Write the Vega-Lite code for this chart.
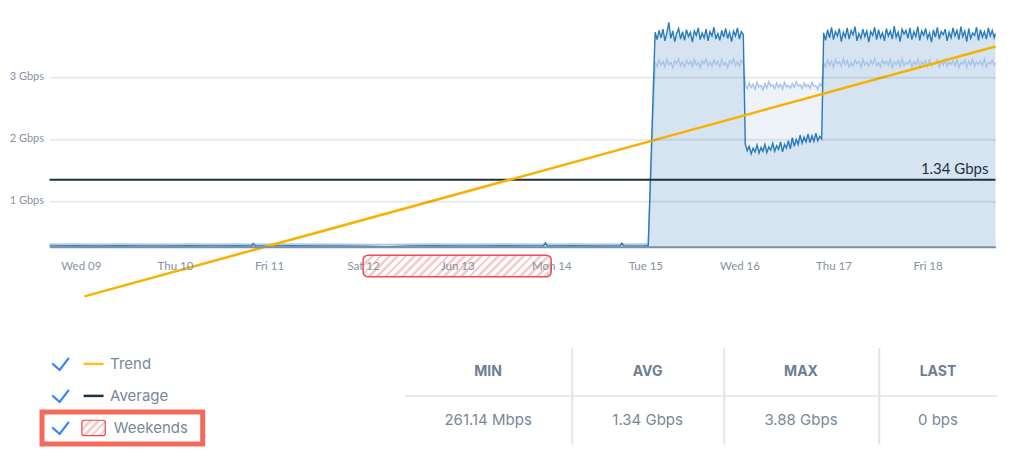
{
"$schema": "https://vega.github.io/schema/vega-lite/v6.json",
"padding": {"left": 9, "top": 19.3, "right": 5, "bottom": 5},
"background": "white",
"config": {"view": {"stroke": null}},
"bounds": "flush",
"spacing": 100.6,
"datasets": {
"series": [
{"t":"2021-06-08T16:00","a":0.274,"b":0.301},
{"t":"2021-06-08T22:00","a":0.277,"b":0.304},
{"t":"2021-06-09T04:00","a":0.273,"b":0.300},
{"t":"2021-06-09T10:00","a":0.276,"b":0.303},
{"t":"2021-06-09T16:00","a":0.275,"b":0.302},
{"t":"2021-06-09T22:00","a":0.272,"b":0.299},
{"t":"2021-06-10T04:00","a":0.276,"b":0.303},
{"t":"2021-06-10T10:00","a":0.274,"b":0.301},
{"t":"2021-06-10T16:00","a":0.277,"b":0.304},
{"t":"2021-06-10T19:30","a":0.275,"b":0.302},
{"t":"2021-06-10T20:00","a":0.305,"b":0.318},
{"t":"2021-06-10T20:30","a":0.275,"b":0.302},
{"t":"2021-06-11T00:00","a":0.274,"b":0.301},
{"t":"2021-06-11T06:00","a":0.276,"b":0.303},
{"t":"2021-06-11T12:00","a":0.273,"b":0.300},
{"t":"2021-06-11T18:00","a":0.275,"b":0.302},
{"t":"2021-06-12T00:00","a":0.271,"b":0.298},
{"t":"2021-06-12T06:00","a":0.261,"b":0.295},
{"t":"2021-06-12T12:00","a":0.274,"b":0.301},
{"t":"2021-06-12T18:00","a":0.276,"b":0.303},
{"t":"2021-06-13T00:00","a":0.273,"b":0.300},
{"t":"2021-06-13T06:00","a":0.275,"b":0.302},
{"t":"2021-06-13T12:00","a":0.277,"b":0.304},
{"t":"2021-06-13T18:00","a":0.274,"b":0.301},
{"t":"2021-06-13T22:00","a":0.275,"b":0.302},
{"t":"2021-06-13T22:30","a":0.32,"b":0.318},
{"t":"2021-06-13T23:00","a":0.275,"b":0.302},
{"t":"2021-06-14T06:00","a":0.276,"b":0.303},
{"t":"2021-06-14T12:00","a":0.273,"b":0.300},
{"t":"2021-06-14T17:30","a":0.275,"b":0.302},
{"t":"2021-06-14T18:00","a":0.318,"b":0.316},
{"t":"2021-06-14T18:30","a":0.274,"b":0.301},
{"t":"2021-06-15T00:00","a":0.276,"b":0.303},
{"t":"2021-06-15T00:45","a":0.278,"b":0.304},
{"t":"2021-06-15T02:30","a":3.72,"b":3.24},
{"t":"2021-06-15T03:00","a":3.60,"b":3.17},
{"t":"2021-06-15T03:30","a":3.75,"b":3.27},
{"t":"2021-06-15T04:00","a":3.63,"b":3.19},
{"t":"2021-06-15T04:30","a":3.77,"b":3.25},
{"t":"2021-06-15T05:00","a":3.58,"b":3.16},
{"t":"2021-06-15T05:30","a":3.71,"b":3.28},
{"t":"2021-06-15T06:00","a":3.88,"b":3.20},
{"t":"2021-06-15T06:30","a":3.62,"b":3.23},
{"t":"2021-06-15T07:00","a":3.74,"b":3.15},
{"t":"2021-06-15T07:30","a":3.57,"b":3.26},
{"t":"2021-06-15T08:00","a":3.70,"b":3.21},
{"t":"2021-06-15T08:30","a":3.78,"b":3.29},
{"t":"2021-06-15T09:00","a":3.61,"b":3.18},
{"t":"2021-06-15T09:30","a":3.73,"b":3.24},
{"t":"2021-06-15T10:00","a":3.59,"b":3.16},
{"t":"2021-06-15T10:30","a":3.76,"b":3.27},
{"t":"2021-06-15T11:00","a":3.65,"b":3.20},
{"t":"2021-06-15T11:30","a":3.72,"b":3.25},
{"t":"2021-06-15T12:00","a":3.56,"b":3.17},
{"t":"2021-06-15T12:30","a":3.74,"b":3.28},
{"t":"2021-06-15T13:00","a":3.67,"b":3.19},
{"t":"2021-06-15T13:30","a":3.79,"b":3.23},
{"t":"2021-06-15T14:00","a":3.60,"b":3.15},
{"t":"2021-06-15T14:30","a":3.71,"b":3.26},
{"t":"2021-06-15T15:00","a":3.63,"b":3.21},
{"t":"2021-06-15T15:30","a":3.77,"b":3.29},
{"t":"2021-06-15T16:00","a":3.58,"b":3.18},
{"t":"2021-06-15T16:30","a":3.73,"b":3.24},
{"t":"2021-06-15T17:00","a":3.66,"b":3.17},
{"t":"2021-06-15T17:30","a":3.80,"b":3.27},
{"t":"2021-06-15T18:00","a":3.61,"b":3.20},
{"t":"2021-06-15T18:30","a":3.70,"b":3.25},
{"t":"2021-06-15T19:00","a":3.59,"b":3.16},
{"t":"2021-06-15T19:30","a":3.75,"b":3.28},
{"t":"2021-06-15T20:00","a":3.64,"b":3.19},
{"t":"2021-06-15T20:30","a":3.78,"b":3.23},
{"t":"2021-06-15T21:00","a":3.62,"b":3.15},
{"t":"2021-06-15T21:30","a":3.72,"b":3.26},
{"t":"2021-06-15T22:00","a":3.57,"b":3.21},
{"t":"2021-06-15T22:30","a":3.74,"b":3.29},
{"t":"2021-06-15T23:00","a":3.66,"b":3.18},
{"t":"2021-06-15T23:30","a":3.79,"b":3.24},
{"t":"2021-06-16T00:00","a":3.61,"b":3.17},
{"t":"2021-06-16T00:30","a":3.73,"b":3.27},
{"t":"2021-06-16T01:00","a":3.68,"b":3.22},
{"t":"2021-06-16T01:30","a":1.92,"b":2.87},
{"t":"2021-06-16T02:00","a":1.81,"b":2.81},
{"t":"2021-06-16T02:30","a":1.88,"b":2.90},
{"t":"2021-06-16T03:00","a":1.76,"b":2.83},
{"t":"2021-06-16T03:30","a":1.85,"b":2.88},
{"t":"2021-06-16T04:00","a":1.79,"b":2.80},
{"t":"2021-06-16T04:30","a":1.90,"b":2.91},
{"t":"2021-06-16T05:00","a":1.77,"b":2.84},
{"t":"2021-06-16T05:30","a":1.86,"b":2.86},
{"t":"2021-06-16T06:00","a":1.80,"b":2.79},
{"t":"2021-06-16T06:30","a":1.91,"b":2.89},
{"t":"2021-06-16T07:00","a":1.78,"b":2.82},
{"t":"2021-06-16T07:30","a":1.87,"b":2.92},
{"t":"2021-06-16T08:00","a":1.82,"b":2.85},
{"t":"2021-06-16T08:30","a":1.93,"b":2.87},
{"t":"2021-06-16T09:00","a":1.80,"b":2.81},
{"t":"2021-06-16T09:30","a":1.89,"b":2.90},
{"t":"2021-06-16T10:00","a":1.83,"b":2.83},
{"t":"2021-06-16T10:30","a":1.95,"b":2.88},
{"t":"2021-06-16T11:00","a":1.79,"b":2.80},
{"t":"2021-06-16T11:30","a":1.91,"b":2.91},
{"t":"2021-06-16T12:00","a":1.85,"b":2.84},
{"t":"2021-06-16T12:30","a":1.97,"b":2.86},
{"t":"2021-06-16T13:00","a":1.84,"b":2.82},
{"t":"2021-06-16T13:30","a":2.02,"b":2.89},
{"t":"2021-06-16T14:00","a":1.88,"b":2.83},
{"t":"2021-06-16T14:30","a":1.99,"b":2.92},
{"t":"2021-06-16T15:00","a":1.91,"b":2.85},
{"t":"2021-06-16T15:30","a":2.06,"b":2.87},
{"t":"2021-06-16T16:00","a":1.93,"b":2.81},
{"t":"2021-06-16T16:30","a":2.03,"b":2.90},
{"t":"2021-06-16T17:00","a":1.95,"b":2.84},
{"t":"2021-06-16T17:30","a":2.08,"b":2.88},
{"t":"2021-06-16T18:00","a":1.94,"b":2.82},
{"t":"2021-06-16T18:30","a":2.05,"b":2.91},
{"t":"2021-06-16T19:00","a":1.96,"b":2.85},
{"t":"2021-06-16T19:30","a":2.09,"b":2.86},
{"t":"2021-06-16T20:00","a":1.97,"b":2.80},
{"t":"2021-06-16T20:30","a":2.04,"b":2.89},
{"t":"2021-06-16T21:00","a":2.00,"b":2.85},
{"t":"2021-06-16T21:30","a":3.71,"b":3.23},
{"t":"2021-06-16T22:00","a":3.59,"b":3.16},
{"t":"2021-06-16T22:30","a":3.76,"b":3.27},
{"t":"2021-06-16T23:00","a":3.63,"b":3.19},
{"t":"2021-06-16T23:30","a":3.80,"b":3.25},
{"t":"2021-06-17T00:00","a":3.60,"b":3.15},
{"t":"2021-06-17T00:30","a":3.73,"b":3.28},
{"t":"2021-06-17T01:00","a":3.66,"b":3.21},
{"t":"2021-06-17T01:30","a":3.78,"b":3.24},
{"t":"2021-06-17T02:00","a":3.57,"b":3.17},
{"t":"2021-06-17T02:30","a":3.72,"b":3.29},
{"t":"2021-06-17T03:00","a":3.64,"b":3.20},
{"t":"2021-06-17T03:30","a":3.79,"b":3.26},
{"t":"2021-06-17T04:00","a":3.61,"b":3.16},
{"t":"2021-06-17T04:30","a":3.75,"b":3.23},
{"t":"2021-06-17T05:00","a":3.68,"b":3.18},
{"t":"2021-06-17T05:30","a":3.81,"b":3.27},
{"t":"2021-06-17T06:00","a":3.58,"b":3.21},
{"t":"2021-06-17T06:30","a":3.70,"b":3.25},
{"t":"2021-06-17T07:00","a":3.62,"b":3.15},
{"t":"2021-06-17T07:30","a":3.77,"b":3.28},
{"t":"2021-06-17T08:00","a":3.65,"b":3.19},
{"t":"2021-06-17T08:30","a":3.74,"b":3.24},
{"t":"2021-06-17T09:00","a":3.56,"b":3.17},
{"t":"2021-06-17T09:30","a":3.73,"b":3.26},
{"t":"2021-06-17T10:00","a":3.67,"b":3.20},
{"t":"2021-06-17T10:30","a":3.80,"b":3.29},
{"t":"2021-06-17T11:00","a":3.60,"b":3.18},
{"t":"2021-06-17T11:30","a":3.76,"b":3.23},
{"t":"2021-06-17T12:00","a":3.63,"b":3.16},
{"t":"2021-06-17T12:30","a":3.71,"b":3.27},
{"t":"2021-06-17T13:00","a":3.58,"b":3.21},
{"t":"2021-06-17T13:30","a":3.78,"b":3.25},
{"t":"2021-06-17T14:00","a":3.66,"b":3.19},
{"t":"2021-06-17T14:30","a":3.74,"b":3.28},
{"t":"2021-06-17T15:00","a":3.61,"b":3.15},
{"t":"2021-06-17T15:30","a":3.82,"b":3.24},
{"t":"2021-06-17T16:00","a":3.64,"b":3.20},
{"t":"2021-06-17T16:30","a":3.72,"b":3.26},
{"t":"2021-06-17T17:00","a":3.57,"b":3.17},
{"t":"2021-06-17T17:30","a":3.77,"b":3.29},
{"t":"2021-06-17T18:00","a":3.69,"b":3.18},
{"t":"2021-06-17T18:30","a":3.75,"b":3.23},
{"t":"2021-06-17T19:00","a":3.62,"b":3.21},
{"t":"2021-06-17T19:30","a":3.79,"b":3.27},
{"t":"2021-06-17T20:00","a":3.60,"b":3.16},
{"t":"2021-06-17T20:30","a":3.73,"b":3.25},
{"t":"2021-06-17T21:00","a":3.65,"b":3.19},
{"t":"2021-06-17T21:30","a":3.81,"b":3.28},
{"t":"2021-06-17T22:00","a":3.59,"b":3.17},
{"t":"2021-06-17T22:30","a":3.74,"b":3.24},
{"t":"2021-06-17T23:00","a":3.67,"b":3.20},
{"t":"2021-06-17T23:30","a":3.78,"b":3.26},
{"t":"2021-06-18T00:00","a":3.62,"b":3.15},
{"t":"2021-06-18T00:30","a":3.71,"b":3.29},
{"t":"2021-06-18T01:00","a":3.56,"b":3.18},
{"t":"2021-06-18T01:30","a":3.76,"b":3.23},
{"t":"2021-06-18T02:00","a":3.64,"b":3.21},
{"t":"2021-06-18T02:30","a":3.80,"b":3.27},
{"t":"2021-06-18T03:00","a":3.61,"b":3.16},
{"t":"2021-06-18T03:30","a":3.73,"b":3.25},
{"t":"2021-06-18T04:00","a":3.68,"b":3.19},
{"t":"2021-06-18T04:30","a":3.77,"b":3.28},
{"t":"2021-06-18T05:00","a":3.58,"b":3.17},
{"t":"2021-06-18T05:30","a":3.72,"b":3.24},
{"t":"2021-06-18T06:00","a":3.63,"b":3.20},
{"t":"2021-06-18T06:30","a":3.79,"b":3.26},
{"t":"2021-06-18T07:00","a":3.66,"b":3.18},
{"t":"2021-06-18T07:30","a":3.75,"b":3.29},
{"t":"2021-06-18T08:00","a":3.60,"b":3.15},
{"t":"2021-06-18T08:30","a":3.81,"b":3.23},
{"t":"2021-06-18T09:00","a":3.65,"b":3.21},
{"t":"2021-06-18T09:30","a":3.74,"b":3.27},
{"t":"2021-06-18T10:00","a":3.57,"b":3.16},
{"t":"2021-06-18T10:30","a":3.78,"b":3.25},
{"t":"2021-06-18T11:00","a":3.62,"b":3.19},
{"t":"2021-06-18T11:30","a":3.71,"b":3.28},
{"t":"2021-06-18T12:00","a":3.67,"b":3.17},
{"t":"2021-06-18T12:30","a":3.80,"b":3.24},
{"t":"2021-06-18T13:00","a":3.59,"b":3.20},
{"t":"2021-06-18T13:30","a":3.76,"b":3.26},
{"t":"2021-06-18T14:00","a":3.64,"b":3.18},
{"t":"2021-06-18T14:30","a":3.73,"b":3.29},
{"t":"2021-06-18T15:00","a":3.61,"b":3.16},
{"t":"2021-06-18T15:30","a":3.79,"b":3.23},
{"t":"2021-06-18T16:00","a":3.66,"b":3.21},
{"t":"2021-06-18T16:30","a":3.75,"b":3.27},
{"t":"2021-06-18T17:00","a":3.63,"b":3.19},
{"t":"2021-06-18T17:20","a":3.70,"b":3.22}
],
"legend": [{"item":"Trend"},{"item":"Average"},{"item":"Weekends"}],
"stats": [{"col":"MIN","val":"261.14 Mbps"},{"col":"AVG","val":"1.34 Gbps"},{"col":"MAX","val":"3.88 Gbps"},{"col":"LAST","val":"0 bps"}]
},
"vconcat": [
{
"width": 953.5,
"height": 224.4,
"layer": [
{"data": {"name": "series"},
 "mark": {"type": "area", "color": "#edf3f9", "opacity": 1},
 "encoding": {
  "x": {"field": "t", "type": "temporal",
   "scale": {"domain": [{"year":2021,"month":6,"date":8,"hours":16},{"year":2021,"month":6,"date":18,"hours":17,"minutes":20}], "range": [7.5, 953.5]},
   "axis": {"title": null, "tickCount": {"interval": "day", "step": 1}, "ticks": false, "tickSize": 0, "grid": false, "domain": true, "domainColor": "#7d91a6", "domainWidth": 2, "labelFont": "Lato", "labelFontSize": 11.5, "labelColor": "#8592a3", "labelPadding": 14, "labelFlush": false, "labelOverlap": false, "zindex": 1}},
  "y": {"field": "b", "type": "quantitative",
   "scale": {"domain": [0.26114, 3.88], "zero": false, "nice": false},
   "axis": {"title": null, "values": [1, 2, 3], "labelExpr": "datum.value + ' Gbps'", "ticks": false, "tickSize": 0, "domain": false, "grid": true, "gridColor": "#1e3c5a", "gridOpacity": 0.1, "gridWidth": 2, "labelFont": "Lato", "labelFontSize": 11, "labelColor": "#8793a2", "labelPadding": 6, "offset": -7.5, "zindex": 1}},
  "y2": {"datum": 0.26114}
 }},
{"data": {"name": "series"},
 "mark": {"type": "area", "color": "#d6e4f1", "opacity": 1},
 "encoding": {"x": {"field": "t", "type": "temporal"}, "y": {"field": "a", "type": "quantitative"}, "y2": {"datum": 0.26114}}},
{"data": {"name": "series"},
 "mark": {"type": "line", "color": "#a8c5e7", "strokeWidth": 1.5},
 "encoding": {"x": {"field": "t", "type": "temporal"}, "y": {"field": "b", "type": "quantitative"}}},
{"data": {"name": "series"},
 "mark": {"type": "line", "color": "#2b7bba", "strokeWidth": 1.4},
 "encoding": {"x": {"field": "t", "type": "temporal"}, "y": {"field": "a", "type": "quantitative"}}},
{"data": {"values": [{"start": "2021-06-12T00:00", "end": "2021-06-14T00:00"}]},
 "mark": {"type": "rect", "stroke": "#ee4b55", "strokeWidth": 1.5, "cornerRadius": 5,
  "fill": {"gradient": "linear", "x1": 0, "y1": 0, "x2": 1.1007, "y2": 0.1269, "stops": [
{"offset":0,"color":"#f7cdcd"},{"offset":0.018,"color":"#f7cdcd"},{"offset":0.018,"color":"#ffffff"},{"offset":0.04,"color":"#ffffff"},
{"offset":0.04,"color":"#f7cdcd"},{"offset":0.058,"color":"#f7cdcd"},{"offset":0.058,"color":"#ffffff"},{"offset":0.08,"color":"#ffffff"},
{"offset":0.08,"color":"#f7cdcd"},{"offset":0.098,"color":"#f7cdcd"},{"offset":0.098,"color":"#ffffff"},{"offset":0.12,"color":"#ffffff"},
{"offset":0.12,"color":"#f7cdcd"},{"offset":0.138,"color":"#f7cdcd"},{"offset":0.138,"color":"#ffffff"},{"offset":0.16,"color":"#ffffff"},
{"offset":0.16,"color":"#f7cdcd"},{"offset":0.178,"color":"#f7cdcd"},{"offset":0.178,"color":"#ffffff"},{"offset":0.2,"color":"#ffffff"},
{"offset":0.2,"color":"#f7cdcd"},{"offset":0.218,"color":"#f7cdcd"},{"offset":0.218,"color":"#ffffff"},{"offset":0.24,"color":"#ffffff"},
{"offset":0.24,"color":"#f7cdcd"},{"offset":0.258,"color":"#f7cdcd"},{"offset":0.258,"color":"#ffffff"},{"offset":0.28,"color":"#ffffff"},
{"offset":0.28,"color":"#f7cdcd"},{"offset":0.298,"color":"#f7cdcd"},{"offset":0.298,"color":"#ffffff"},{"offset":0.32,"color":"#ffffff"},
{"offset":0.32,"color":"#f7cdcd"},{"offset":0.338,"color":"#f7cdcd"},{"offset":0.338,"color":"#ffffff"},{"offset":0.36,"color":"#ffffff"},
{"offset":0.36,"color":"#f7cdcd"},{"offset":0.378,"color":"#f7cdcd"},{"offset":0.378,"color":"#ffffff"},{"offset":0.4,"color":"#ffffff"},
{"offset":0.4,"color":"#f7cdcd"},{"offset":0.418,"color":"#f7cdcd"},{"offset":0.418,"color":"#ffffff"},{"offset":0.44,"color":"#ffffff"},
{"offset":0.44,"color":"#f7cdcd"},{"offset":0.458,"color":"#f7cdcd"},{"offset":0.458,"color":"#ffffff"},{"offset":0.48,"color":"#ffffff"},
{"offset":0.48,"color":"#f7cdcd"},{"offset":0.498,"color":"#f7cdcd"},{"offset":0.498,"color":"#ffffff"},{"offset":0.52,"color":"#ffffff"},
{"offset":0.52,"color":"#f7cdcd"},{"offset":0.538,"color":"#f7cdcd"},{"offset":0.538,"color":"#ffffff"},{"offset":0.56,"color":"#ffffff"},
{"offset":0.56,"color":"#f7cdcd"},{"offset":0.578,"color":"#f7cdcd"},{"offset":0.578,"color":"#ffffff"},{"offset":0.6,"color":"#ffffff"},
{"offset":0.6,"color":"#f7cdcd"},{"offset":0.618,"color":"#f7cdcd"},{"offset":0.618,"color":"#ffffff"},{"offset":0.64,"color":"#ffffff"},
{"offset":0.64,"color":"#f7cdcd"},{"offset":0.658,"color":"#f7cdcd"},{"offset":0.658,"color":"#ffffff"},{"offset":0.68,"color":"#ffffff"},
{"offset":0.68,"color":"#f7cdcd"},{"offset":0.698,"color":"#f7cdcd"},{"offset":0.698,"color":"#ffffff"},{"offset":0.72,"color":"#ffffff"},
{"offset":0.72,"color":"#f7cdcd"},{"offset":0.738,"color":"#f7cdcd"},{"offset":0.738,"color":"#ffffff"},{"offset":0.76,"color":"#ffffff"},
{"offset":0.76,"color":"#f7cdcd"},{"offset":0.778,"color":"#f7cdcd"},{"offset":0.778,"color":"#ffffff"},{"offset":0.8,"color":"#ffffff"},
{"offset":0.8,"color":"#f7cdcd"},{"offset":0.818,"color":"#f7cdcd"},{"offset":0.818,"color":"#ffffff"},{"offset":0.84,"color":"#ffffff"},
{"offset":0.84,"color":"#f7cdcd"},{"offset":0.858,"color":"#f7cdcd"},{"offset":0.858,"color":"#ffffff"},{"offset":0.88,"color":"#ffffff"},
{"offset":0.88,"color":"#f7cdcd"},{"offset":0.898,"color":"#f7cdcd"},{"offset":0.898,"color":"#ffffff"},{"offset":0.92,"color":"#ffffff"},
{"offset":0.92,"color":"#f7cdcd"},{"offset":0.938,"color":"#f7cdcd"},{"offset":0.938,"color":"#ffffff"},{"offset":0.96,"color":"#ffffff"},
{"offset":0.96,"color":"#f7cdcd"},{"offset":0.978,"color":"#f7cdcd"},{"offset":0.978,"color":"#ffffff"},{"offset":1,"color":"#ffffff"}
  ]}},
 "encoding": {"x": {"field": "start", "type": "temporal"}, "x2": {"field": "end"}, "y": {"datum": 0.125, "type": "quantitative"}, "y2": {"datum": -0.225}}},
{"data": {"values": [{"t": "2021-06-08T16:00", "t2": "2021-06-18T17:20", "v": 1.34, "label": "1.34 Gbps"}]},
 "mark": {"type": "rule", "color": "#1f2f3e", "strokeWidth": 2},
 "encoding": {"x": {"field": "t", "type": "temporal"}, "x2": {"field": "t2"}, "y": {"field": "v", "type": "quantitative"}}},
{"data": {"values": [{"t": "2021-06-08T16:00", "t2": "2021-06-18T17:20", "v": 1.34, "label": "1.34 Gbps"}]},
 "mark": {"type": "text", "align": "right", "baseline": "alphabetic", "dx": -7, "dy": -6, "font": "Lato", "fontSize": 15, "color": "#1f2f3e"},
 "encoding": {"x": {"field": "t2", "type": "temporal"}, "y": {"field": "v", "type": "quantitative"}, "text": {"field": "label"}}},
{"data": {"values": [{"t": "2021-06-09T00:55", "v": -0.54}, {"t": "2021-06-18T17:20", "v": 3.49}]},
 "mark": {"type": "line", "color": "#f8b100", "strokeWidth": 2.5},
 "encoding": {"x": {"field": "t", "type": "temporal"}, "y": {"field": "v", "type": "quantitative"}}}
]
},
{
"hconcat": [
{
"width": 160.7,
"height": 96,
"data": {"name": "legend"},
"layer": [
{"transform": [{"filter": "datum.item === 'Weekends'"}],
 "mark": {"type": "rect", "fill": "transparent", "stroke": "#f36a5a", "strokeWidth": 5},
 "encoding": {"y": {"field": "item", "type": "nominal", "scale": {"type": "band", "domain": ["Trend", "Average", "Weekends"], "paddingInner": 0, "paddingOuter": 0}, "axis": null}}},
{"mark": {"type": "point", "shape": "M-1,-0.05L-0.1,0.72L1,-0.72", "size": 279, "filled": false, "color": "#3b82f6", "strokeWidth": 2.2, "opacity": 1},
 "encoding": {"x": {"datum": "check", "type": "nominal", "scale": {"type": "point", "domain": ["check", "gap", "symbol", "label"], "range": [18.5, 68.1], "padding": 0}, "axis": null}, "y": {"field": "item", "type": "nominal"}}},
{"transform": [{"filter": "datum.item === 'Trend'"}],
 "mark": {"type": "point", "shape": "M-1,0L1,0", "size": 400, "filled": false, "color": "#fbbd2a", "strokeWidth": 2.5, "opacity": 1},
 "encoding": {"x": {"datum": "symbol", "type": "nominal"}, "y": {"field": "item", "type": "nominal"}}},
{"transform": [{"filter": "datum.item === 'Average'"}],
 "mark": {"type": "point", "shape": "M-1,0L1,0", "size": 400, "filled": false, "color": "#22313f", "strokeWidth": 2.5, "opacity": 1},
 "encoding": {"x": {"datum": "symbol", "type": "nominal"}, "y": {"field": "item", "type": "nominal"}}},
{"transform": [{"filter": "datum.item === 'Weekends'"}],
 "mark": {"type": "point", "shape": "M-0.8,-0.657L0.8,-0.657A0.2,0.2,0,0,1,1,-0.457L1,0.457A0.2,0.2,0,0,1,0.8,0.657L-0.8,0.657A0.2,0.2,0,0,1,-1,0.457L-1,-0.457A0.2,0.2,0,0,1,-0.8,-0.657Z", "size": 543, "filled": true, "opacity": 1, "stroke": "#e5484d", "strokeWidth": 1.2,
  "fill": {"gradient": "linear", "x1": 0, "y1": 0, "x2": 1.1574, "y2": 0.7604, "stops": [
{"offset":0,"color":"#f7cdcd"},{"offset":0.09,"color":"#f7cdcd"},{"offset":0.09,"color":"#ffffff"},{"offset":0.2,"color":"#ffffff"},
{"offset":0.2,"color":"#f7cdcd"},{"offset":0.29,"color":"#f7cdcd"},{"offset":0.29,"color":"#ffffff"},{"offset":0.4,"color":"#ffffff"},
{"offset":0.4,"color":"#f7cdcd"},{"offset":0.49,"color":"#f7cdcd"},{"offset":0.49,"color":"#ffffff"},{"offset":0.6,"color":"#ffffff"},
{"offset":0.6,"color":"#f7cdcd"},{"offset":0.69,"color":"#f7cdcd"},{"offset":0.69,"color":"#ffffff"},{"offset":0.8,"color":"#ffffff"},
{"offset":0.8,"color":"#f7cdcd"},{"offset":0.89,"color":"#f7cdcd"},{"offset":0.89,"color":"#ffffff"},{"offset":1,"color":"#ffffff"}
  ]}},
 "encoding": {"x": {"datum": "symbol", "type": "nominal"}, "y": {"field": "item", "type": "nominal"}}},
{"transform": [{"filter": "datum.item !== 'Weekends'"}],
 "mark": {"type": "text", "align": "left", "baseline": "middle", "font": "Inter", "fontSize": 15, "color": "#7a8799"},
 "encoding": {"x": {"datum": "label", "type": "nominal"}, "y": {"field": "item", "type": "nominal"}, "text": {"field": "item"}}},
{"transform": [{"filter": "datum.item === 'Weekends'"}],
 "mark": {"type": "text", "align": "left", "baseline": "middle", "dx": 3.7, "font": "Inter", "fontSize": 15, "color": "#7a8799"},
 "encoding": {"x": {"datum": "label", "type": "nominal"}, "y": {"field": "item", "type": "nominal"}, "text": {"field": "item"}}}
]
},
{
"hconcat": [
{"width": 166.7, "height": 96, "data": {"name": "stats"}, "transform": [{"filter": "datum.col === 'MIN'"}],
 "layer": [
  {"mark": {"type": "rule", "color": "#e3e3e3", "strokeWidth": 1.5}, "encoding": {"y": {"datum": "sep", "type": "nominal", "scale": {"type": "point", "domain": ["header", "sep", "value"], "padding": 1}, "axis": null}}},
  {"mark": {"type": "text", "font": "Inter", "fontSize": 14, "fontWeight": "bold", "color": "#6e7e92"}, "encoding": {"y": {"datum": "header", "type": "nominal"}, "text": {"field": "col"}}},
  {"mark": {"type": "text", "font": "Inter", "fontSize": 15, "color": "#7a8797"}, "encoding": {"y": {"datum": "value", "type": "nominal"}, "text": {"field": "val"}}}
 ]},
{"width": 151.6, "height": 96, "data": {"name": "stats"}, "transform": [{"filter": "datum.col === 'AVG'"}],
 "layer": [
  {"mark": {"type": "rule", "color": "#e3e3e3", "strokeWidth": 1.5}, "encoding": {"y": {"datum": "sep", "type": "nominal", "scale": {"type": "point", "domain": ["header", "sep", "value"], "padding": 1}, "axis": {"labels": false, "ticks": false, "grid": false, "title": null, "domain": true, "domainColor": "#e3e3e3", "domainWidth": 2}}}},
  {"mark": {"type": "text", "font": "Inter", "fontSize": 14, "fontWeight": "bold", "color": "#6e7e92"}, "encoding": {"y": {"datum": "header", "type": "nominal"}, "text": {"field": "col"}}},
  {"mark": {"type": "text", "font": "Inter", "fontSize": 15, "color": "#7a8797"}, "encoding": {"y": {"datum": "value", "type": "nominal"}, "text": {"field": "val"}}}
 ]},
{"width": 154.4, "height": 96, "data": {"name": "stats"}, "transform": [{"filter": "datum.col === 'MAX'"}],
 "layer": [
  {"mark": {"type": "rule", "color": "#e3e3e3", "strokeWidth": 1.5}, "encoding": {"y": {"datum": "sep", "type": "nominal", "scale": {"type": "point", "domain": ["header", "sep", "value"], "padding": 1}, "axis": {"labels": false, "ticks": false, "grid": false, "title": null, "domain": true, "domainColor": "#e3e3e3", "domainWidth": 2}}}},
  {"mark": {"type": "text", "font": "Inter", "fontSize": 14, "fontWeight": "bold", "color": "#6e7e92"}, "encoding": {"y": {"datum": "header", "type": "nominal"}, "text": {"field": "col"}}},
  {"mark": {"type": "text", "font": "Inter", "fontSize": 15, "color": "#7a8797"}, "encoding": {"y": {"datum": "value", "type": "nominal"}, "text": {"field": "val"}}}
 ]},
{"width": 118.3, "height": 96, "data": {"name": "stats"}, "transform": [{"filter": "datum.col === 'LAST'"}],
 "layer": [
  {"mark": {"type": "rule", "color": "#e3e3e3", "strokeWidth": 1.5}, "encoding": {"y": {"datum": "sep", "type": "nominal", "scale": {"type": "point", "domain": ["header", "sep", "value"], "padding": 1}, "axis": {"labels": false, "ticks": false, "grid": false, "title": null, "domain": true, "domainColor": "#e3e3e3", "domainWidth": 2}}}},
  {"mark": {"type": "text", "font": "Inter", "fontSize": 14, "fontWeight": "bold", "color": "#6e7e92"}, "encoding": {"y": {"datum": "header", "type": "nominal"}, "text": {"field": "col"}}},
  {"mark": {"type": "text", "font": "Inter", "fontSize": 15, "color": "#7a8797"}, "encoding": {"y": {"datum": "value", "type": "nominal"}, "text": {"field": "val"}}}
 ]}
],
"spacing": 0,
"bounds": "flush"
}
],
"spacing": 201.8,
"bounds": "flush"
}
]
}
